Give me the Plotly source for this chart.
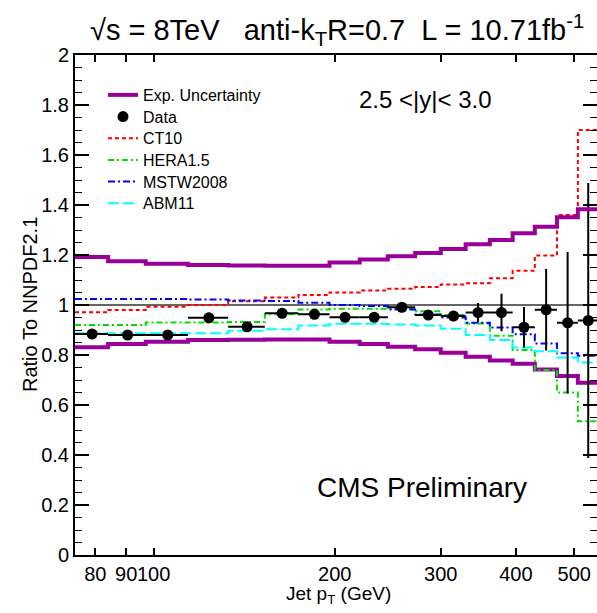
import numpy as np
import plotly.graph_objects as go

# ---------------- data ----------------
bin_edges = [74, 84, 97, 114, 133, 153, 174, 196, 220, 245, 272, 300,
             330, 362, 395, 430, 468, 507, 548]

exp_unc_up = [1.192, 1.175, 1.165, 1.160, 1.158, 1.157, 1.157, 1.170, 1.182,
              1.195, 1.208, 1.224, 1.243, 1.260, 1.287, 1.313, 1.351, 1.383]
exp_unc_dn = [0.831, 0.844, 0.853, 0.860, 0.861, 0.862, 0.862, 0.853, 0.844,
              0.833, 0.823, 0.809, 0.793, 0.778, 0.765, 0.742, 0.716, 0.689]

data_ratio = [0.884, 0.880, 0.880, 0.949, 0.913, 0.967, 0.963, 0.951, 0.951,
              0.991, 0.960, 0.956, 0.970, 0.970, 0.911, 0.981, 0.929, 0.938]
data_err = [0.010, 0.010, 0.010, 0.020, 0.010, 0.012, 0.012, 0.010, 0.012,
            0.020, 0.015, 0.020, 0.038, 0.075, 0.081, 0.163, 0.283, 0.550]

ct10 = [0.971, 0.980, 0.993, 1.000, 1.015, 1.030, 1.040, 1.050, 1.058,
        1.065, 1.072, 1.082, 1.087, 1.107, 1.137, 1.198, 1.360, 1.700]
hera15 = [0.920, 0.920, 0.930, 0.930, 0.932, 0.963, 0.982, 0.985, 0.985,
          0.985, 0.975, 0.960, 0.926, 0.877, 0.820, 0.740, 0.650, 0.535]
mstw2008 = [1.024, 1.024, 1.024, 1.022, 1.018, 1.016, 1.009, 1.000, 0.996,
            0.982, 0.962, 0.950, 0.929, 0.910, 0.883, 0.846, 0.807, 0.797]
abm11 = [0.887, 0.887, 0.887, 0.887, 0.897, 0.903, 0.918, 0.925, 0.925,
         0.922, 0.918, 0.905, 0.880, 0.860, 0.830, 0.815, 0.790, 0.770]

x_ticks = [80, 90, 100, 200, 300, 400, 500]
ref_level = 1.0

# ---------------- derived ----------------
edges = np.array(bin_edges, dtype=float)
centers = 0.5 * (edges[:-1] + edges[1:])
err_minus = centers - edges[:-1]
err_plus = edges[1:] - centers


def step_y(vals):
    return list(vals) + [vals[-1]]


FONT = "Liberation Sans, Arial, sans-serif"
PURPLE = "#990099"

fig = go.Figure()

# Experimental uncertainty band (two step lines)
fig.add_trace(go.Scatter(
    x=bin_edges, y=step_y(exp_unc_dn), mode="lines",
    line=dict(color=PURPLE, width=4, shape="hv"),
    name="Exp. Uncertainty", legend="legend", showlegend=True,
    hoverinfo="skip"))
fig.add_trace(go.Scatter(
    x=bin_edges, y=step_y(exp_unc_up), mode="lines",
    line=dict(color=PURPLE, width=4, shape="hv"),
    name="Exp. Uncertainty", showlegend=False, yaxis="y2",
    hoverinfo="skip"))

theories = [
    ("CT10", ct10, "#ff0000", "4px,3px", "legend3"),
    ("HERA1.5", hera15, "#00e000", "6px,3px,2px,3px", "legend4"),
    ("MSTW2008", mstw2008, "#0000ff", "7px,3px,2px,3px", "legend5"),
    ("ABM11", abm11, "#00ffff", "11px,4px", "legend6"),
]
for name, vals, color, dash, lg in theories:
    fig.add_trace(go.Scatter(
        x=bin_edges, y=step_y(vals), mode="lines",
        line=dict(color=color, width=2, dash=dash, shape="hv"),
        name=name, legend=lg, hoverinfo="skip"))

# Data points
fig.add_trace(go.Scatter(
    x=centers, y=data_ratio, mode="markers",
    marker=dict(color="black", size=11, symbol="circle"),
    error_y=dict(type="data", array=data_err, color="black",
                 thickness=2, width=0),
    error_x=dict(type="data", array=err_plus, arrayminus=err_minus,
                 color="black", thickness=2, width=0),
    name="Data", legend="legend2"))

# reference line at ratio = 1
fig.add_shape(type="line", xref="paper", x0=0, x1=1, yref="y",
              y0=ref_level, y1=ref_level,
              line=dict(color="#333333", width=1.5), layer="below")

# ---------------- layout ----------------
L, R, T, B = 75, 0, 55, 58
W, H = 597, 613
pw, ph = W - L - R, H - T - B


def px_x(px):
    return (px - L) / pw


def px_y(py):
    return (H - B - py) / ph


legend_rows = [95, 116.7, 138.3, 160, 181.7, 203.3]
legend_names = ["legend", "legend2", "legend3", "legend4", "legend5", "legend6"]
legend_x = px_x(103)
for nm, py in zip(legend_names, legend_rows):
    fig.update_layout({nm: dict(
        x=legend_x, y=px_y(py), xanchor="left", yanchor="middle",
        bgcolor="rgba(0,0,0,0)", borderwidth=0, itemwidth=30,
        font=dict(family=FONT, size=16, color="black"))})

axis_font = dict(family=FONT, size=20, color="black")
x_lo = np.log10(bin_edges[0])
x_hi = np.log10(545.5)

fig.update_layout(
    width=W, height=H,
    margin=dict(l=L, r=R, t=T, b=B, pad=0),
    template="none",
    paper_bgcolor="white", plot_bgcolor="white",
    font=dict(family=FONT, color="black"),
    xaxis=dict(type="log", range=[x_lo, x_hi],
               tickmode="array", tickvals=x_ticks,
               ticktext=[str(v) for v in x_ticks], tickangle=0,
               ticks="inside", ticklen=7, tickwidth=1.5, tickcolor="black",
               showline=True, linewidth=2, linecolor="black",
               mirror="ticks", showgrid=False, zeroline=False,
               tickfont=axis_font, automargin=False),
    yaxis=dict(range=[0, 2], tickmode="linear", tick0=0, dtick=0.2,
               ticks="inside", ticklen=14, tickwidth=1.5, tickcolor="black",
               showline=True, linewidth=2, linecolor="black",
               minor=dict(ticks="inside", ticklen=7, tickwidth=1,
                          tickcolor="black", tickmode="linear", tick0=0,
                          dtick=0.05),
               showgrid=False, zeroline=False,
               tickfont=axis_font, automargin=False),
    yaxis2=dict(range=[0, 2], overlaying="y", side="right", anchor="x",
                tickmode="linear", tick0=0, dtick=0.2,
                ticks="inside", ticklen=14, tickwidth=1.5, tickcolor="black",
                minor=dict(ticks="inside", ticklen=7, tickwidth=1,
                           tickcolor="black", tickmode="linear", tick0=0,
                           dtick=0.05),
                showline=False, showticklabels=False,
                showgrid=False, zeroline=False, automargin=False),
    showlegend=True,
)

fig.add_annotation(
    text="√s = 8TeV   anti-k<sub>T</sub>R=0.7  L = 10.71fb<sup>-1</sup>",
    xref="paper", yref="paper", x=px_x(337), y=px_y(30),
    xanchor="center", yanchor="middle", showarrow=False,
    font=dict(family=FONT, size=29, color="black"))
fig.add_annotation(
    text="2.5 <|y|< 3.0", xref="paper", yref="paper",
    x=px_x(425), y=px_y(100), xanchor="center", yanchor="middle",
    showarrow=False, font=dict(family=FONT, size=24, color="black"))
fig.add_annotation(
    text="CMS Preliminary", xref="paper", yref="paper",
    x=px_x(422), y=px_y(487), xanchor="center", yanchor="middle",
    showarrow=False, font=dict(family=FONT, size=28, color="black"))
fig.add_annotation(
    text="Ratio To NNPDF2.1", xref="paper", yref="paper",
    x=px_x(30), y=0.5, xanchor="center", yanchor="middle", textangle=-90,
    showarrow=False, font=dict(family=FONT, size=20, color="black"))
fig.add_annotation(
    text="Jet p<sub>T</sub> (GeV)", xref="paper", yref="paper",
    x=px_x(338), y=px_y(595), xanchor="center", yanchor="middle",
    showarrow=False, font=dict(family=FONT, size=19, color="black"))

fig.write_html(
    "out.html",
    config={"displayModeBar": False},
    post_script="document.body.style.margin='0';"
                "document.body.style.overflow='hidden';")
